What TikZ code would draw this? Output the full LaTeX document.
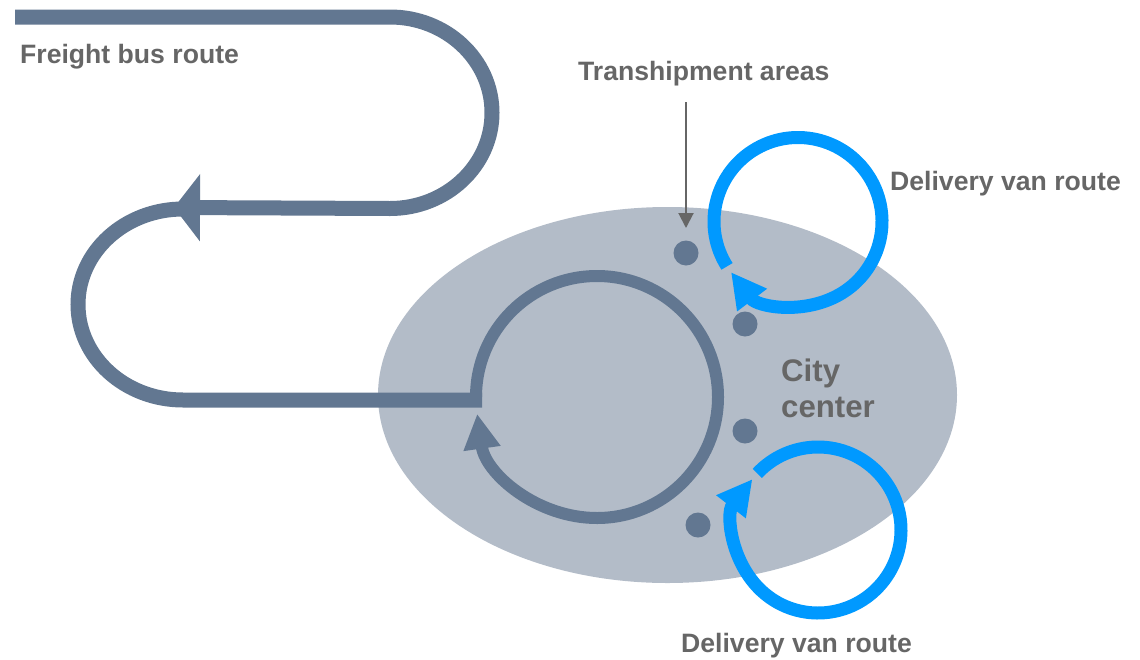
\documentclass[tikz,border=0pt]{standalone}
\usepackage{fontspec}
\setmainfont{Liberation Sans}
\usetikzlibrary{arrows.meta}
\definecolor{routecol}{HTML}{627791}
\definecolor{citycol}{HTML}{B3BCC8}
\definecolor{vancol}{HTML}{0099FF}
\definecolor{txtcol}{HTML}{666666}
\begin{document}
\begin{tikzpicture}[x=1pt,y=-1pt,
  busline/.style={draw=routecol, line width=15pt},
  ringline/.style={draw=routecol, line width=12pt},
  vanline/.style={draw=vancol, line width=13pt},
  bigtip/.style={-{Triangle[length=35pt,width=35pt]}},
  dot/.style={fill=routecol},
  lbl/.style={text=txtcol, font=\fontsize{26.6}{30}\selectfont\bfseries, inner sep=0pt, anchor=base west},
  citylbl/.style={text=txtcol, font=\fontsize{31.2}{36}\selectfont\bfseries, inner sep=0pt, anchor=base west}]
\useasboundingbox (0,0) rectangle (1140,659);

% city area
\fill[citycol] (667.5,395) ellipse[x radius=289.5, y radius=188];

% freight bus route
\coordinate (fstart) at (15,17);
\coordinate (ftopend) at (390,17);
\coordinate (fturn) at (390,208.5);
\coordinate (ftip) at (174,207.5);
\coordinate (fleft) at (183,209);
\coordinate (fjoin) at (482,400);
\draw[busline] (fstart) -- (ftopend) arc[start angle=-90, end angle=90, x radius=102, y radius=95.75];
\draw[busline, -{Triangle[length=26pt,width=66pt]}] (fturn) -- (ftip);
\draw[busline] (fleft) arc[start angle=-90, end angle=-270, x radius=105, y radius=95.5] -- (fjoin);

% inner ring
\coordinate (ringc) at (597,397);
\draw[ringline, bigtip] (ringc) ++(180:121) arc[start angle=180, end angle=532, radius=121];

% delivery van loops
\coordinate (van1c) at (798,221.5);
\coordinate (van2c) at (818,530);
\draw[vanline, bigtip] (van1c) ++(147.7:84) arc[start angle=147.7, end angle=502.9, radius=84];
\draw[vanline, bigtip] (van2c) ++(223:83) arc[start angle=223, end angle=577.8, radius=83];

% transhipment points
\fill[dot] (686,253) circle[radius=12.5] coordinate (d1);
\fill[dot] (745,324) circle[radius=12.5] coordinate (d2);
\fill[dot] (745,431) circle[radius=12.5] coordinate (d3);
\fill[dot] (698,525) circle[radius=12.5] coordinate (d4);

% labels
\node[lbl] (freight) at (20,63) {Freight bus route};
\node[lbl] (trans) at (578,80) {Transhipment areas};
\node[lbl] (van1) at (890,190) {Delivery van route};
\node[lbl] (van2) at (681,652) {Delivery van route};
\node[citylbl] (city1) at (781,381) {City};
\node[citylbl] (city2) at (781,417) {center};

% pointer
\coordinate (ptop) at (686,102);
\coordinate (ptip) at (686,228);
\draw[draw=txtcol, line width=2pt, -{Triangle[length=15pt,width=15pt]}] (ptop) -- (ptip);
\end{tikzpicture}
\end{document}
